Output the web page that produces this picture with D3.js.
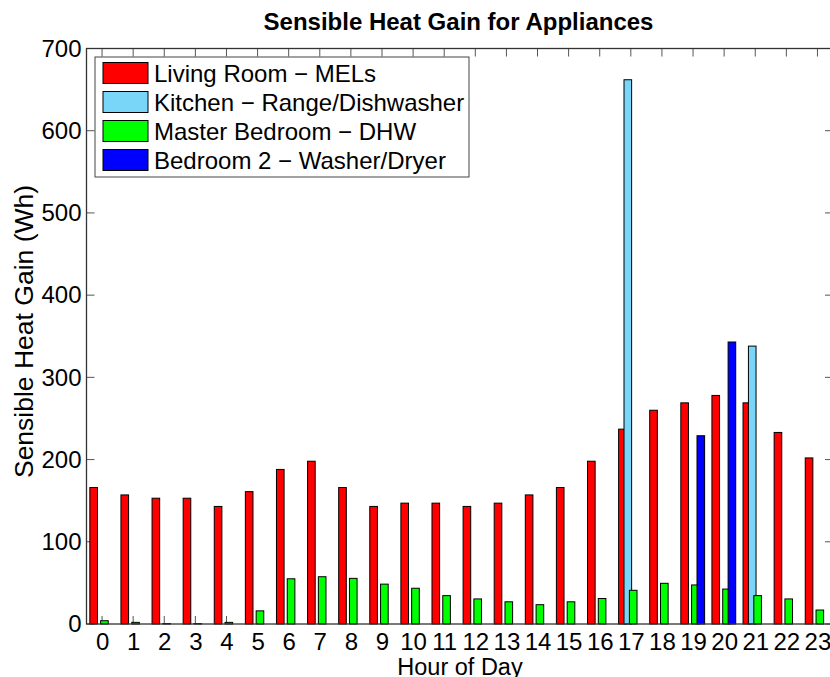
<!DOCTYPE html>
<html>
<head>
<meta charset="utf-8">
<script src="https://cdn.jsdelivr.net/npm/d3@7"></script>
<style>
  body { margin: 0; background: #fff; }
  text { font-family: "Liberation Sans", Arial, sans-serif; }
</style>
</head>
<body>
<div id="chart"></div>
<script>
const hours = d3.range(0, 24)
const seriesNames = ['Living Room \u2212 MELs', 'Kitchen \u2212 Range/Dishwasher', 'Master Bedroom \u2212 DHW', 'Bedroom 2 \u2212 Washer/Dryer']
const livingRoom = [166, 157, 153, 153, 143, 161, 188, 198, 166, 143, 147, 147, 143, 147, 157, 166, 198, 237, 260, 269, 278, 269, 233, 202]
const kitchen = [0, 0, 0, 0, 0, 0, 0, 0, 0, 0, 0, 0, 0, 0, 0, 0, 0, 662, 0, 0, 0, 338, 0, 0]
const masterBedroom = [4, 2, 0.5, 0.5, 2, 16, 55, 57.5, 55.5, 48.5, 43.5, 34.5, 30.5, 27, 23.5, 27, 31, 41, 49.5, 47.5, 42.5, 34.5, 30.5, 17]
const bedroom2 = [0, 0, 0, 0, 0, 0, 0, 0, 0, 0, 0, 0, 0, 0, 0, 0, 0, 0, 0, 229, 343, 0, 0, 0]
const yTicks = [0, 100, 200, 300, 400, 500, 600, 700]
const colors = ['#ff0000', '#7ad6f8', '#00ff00', '#0000ff']

const width = 830
const height = 677
const margin = {
  'top': 48.5,
  'left': 86.5,
  'right': -3,
  'bottom': 53
}

let svg = d3.select('#chart')
  .append('svg')
  .attr('width', width)
  .attr('height', height)

let x = d3.scaleLinear().domain([-0.5, 23.5]).range([margin.left, width - margin.right])
let y = d3.scaleLinear().domain([0, 700]).range([height - margin.bottom, margin.top])

// MATLAB style grouped bars: slot offsets in hour units
let offset = d3.scaleLinear().domain([0, 3]).range([-0.27, 0.25])
let barW = 0.245

let table = [livingRoom, kitchen, masterBedroom, bedroom2].map((vals, s) =>
  vals.map((v, i) => ({ hour: hours[i], value: v, series: s })))

// inward ticks drawn under the bars
let tickLen = 8
let ticks = svg.append('g').attr('stroke', '#555').attr('stroke-width', 1)
hours.forEach(h => {
  ticks.append('line').attr('x1', x(h)).attr('x2', x(h)).attr('y1', y(0)).attr('y2', y(0) - tickLen)
  ticks.append('line').attr('x1', x(h)).attr('x2', x(h)).attr('y1', y(700)).attr('y2', y(700) + tickLen)
})
yTicks.forEach(t => {
  ticks.append('line').attr('x1', x(-0.5)).attr('x2', x(-0.5) + tickLen).attr('y1', y(t)).attr('y2', y(t))
  ticks.append('line').attr('x1', x(23.5)).attr('x2', x(23.5) - tickLen).attr('y1', y(t)).attr('y2', y(t))
})

table.forEach(rows => {
  svg.append('g')
    .selectAll('rect')
    .data(rows.filter(d => d.value > 0))
    .enter()
    .append('rect')
    .attr('x', d => x(d.hour + offset(d.series) - barW / 2))
    .attr('y', d => y(d.value))
    .attr('width', d => x(barW) - x(0))
    .attr('height', d => y(0) - y(d.value))
    .attr('fill', d => colors[d.series])
    .attr('stroke', '#000')
    .attr('stroke-width', 1)
})

// axes box
svg.append('rect')
  .attr('x', x(-0.5))
  .attr('y', y(700))
  .attr('width', x(23.5) - x(-0.5))
  .attr('height', y(0) - y(700))
  .attr('fill', 'none')
  .attr('stroke', '#333')
  .attr('stroke-width', 1.3)

let xAxis = svg.append('g')
  .attr('transform', `translate(0, ${y(0)})`)
  .call(d3.axisBottom(x).tickValues(hours).tickSize(0).tickPadding(9).tickFormat(d3.format('d')))
xAxis.select('.domain').remove()
xAxis.selectAll('text').attr('font-size', 24).attr('fill', '#000').attr('font-family', '"Liberation Sans", Arial, sans-serif')

let yAxis = svg.append('g')
  .attr('transform', `translate(${x(-0.5)}, 0)`)
  .call(d3.axisLeft(y).tickValues(yTicks).tickSize(0).tickPadding(5))
yAxis.select('.domain').remove()
yAxis.selectAll('text').attr('font-size', 24).attr('fill', '#000').attr('font-family', '"Liberation Sans", Arial, sans-serif')

svg.append('text')
  .attr('x', 458.5)
  .attr('y', 30)
  .attr('text-anchor', 'middle')
  .attr('font-size', 24)
  .attr('font-weight', 'bold')
  .text('Sensible Heat Gain for Appliances')

// the reference crops the descender of this label at the bottom edge
svg.append('text')
  .attr('x', 460)
  .attr('y', 675)
  .attr('text-anchor', 'middle')
  .attr('font-size', 23.5)
  .text('Hour of Day')

svg.append('text')
  .attr('transform', 'translate(33, 331.5) rotate(-90)')
  .attr('text-anchor', 'middle')
  .attr('font-size', 26.5)
  .text('Sensible Heat Gain (Wh)')

// legend
let legend = svg.append('g').attr('transform', 'translate(95, 57)')
legend.append('rect')
  .attr('width', 374)
  .attr('height', 120)
  .attr('fill', '#fff')
  .attr('stroke', '#444')
  .attr('stroke-width', 1)
seriesNames.forEach((name, i) => {
  let row = legend.append('g').attr('transform', `translate(8, ${5.5 + i * 29})`)
  row.append('rect')
    .attr('width', 45)
    .attr('height', 21)
    .attr('fill', colors[i])
    .attr('stroke', '#000')
    .attr('stroke-width', 1)
  row.append('text')
    .attr('x', 51)
    .attr('y', 19)
    .attr('font-size', 24)
    .text(name)
})
</script>
</body>
</html>
